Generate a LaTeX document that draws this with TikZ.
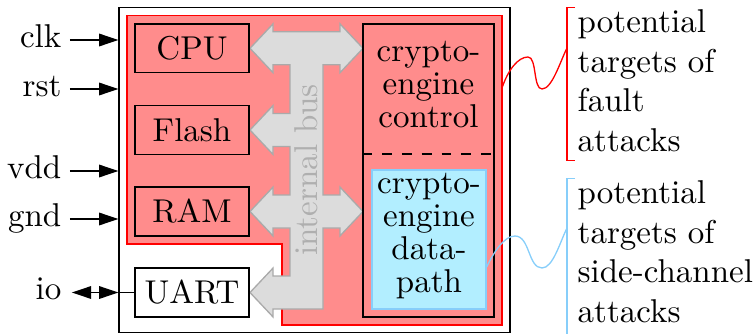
\documentclass[tikz,border=0pt]{standalone}
\usetikzlibrary{arrows.meta,calc}
\definecolor{faultfill}{RGB}{255,140,140}
\definecolor{scafill}{RGB}{178,238,255}
\definecolor{scaline}{RGB}{135,206,250}
\definecolor{busfill}{RGB}{220,220,220}
\definecolor{busline}{RGB}{170,170,170}
\definecolor{bustext}{RGB}{175,175,175}
\begin{document}
\begin{tikzpicture}[x=0.30303pt, y=-0.30303pt,
  unitbox/.style={draw, inner sep=0, minimum width=34.55pt, minimum height=14.76pt},
  modbox/.style={unitbox, fill=faultfill},
  pin/.style={inner sep=0, anchor=mid east},
  pinarrow/.style={-{Triangle[length=5.8pt,width=3.8pt]}, shorten <=2.4pt},
  stack/.style={align=center, font=\fontsize{10}{10}\selectfont, inner sep=0},
  note/.style={align=left, anchor=north west, inner sep=0},
]
\useasboundingbox (0,0) rectangle (756,333);

% chip outline
\node[draw, inner sep=0, minimum width=118.48pt, minimum height=98.55pt] (chip) at (314.5,169.9) {};

% region exposed to fault attacks
\draw[red, fill=faultfill] (127,15.7) -- (502,15.7) -- (502,325) -- (282,325)
  -- (282,244) -- (127,244) -- cycle;

% internal bus
\draw[busline, fill=busfill, line join=miter]
  (250,48.3) -- (273,23.9) -- (273,31.8) -- (340,31.8) -- (340,23.9) -- (363,48.3)
  -- (340,72.7) -- (340,64.8) -- (323,64.8) -- (323,195) -- (340,195) -- (340,187.1)
  -- (363,211.5) -- (340,235.9) -- (340,228) -- (323,228) -- (323,309) -- (273,309)
  -- (273,316.9) -- (250,292.5) -- (273,268.1) -- (273,276) -- (290,276) -- (290,228)
  -- (273,228) -- (273,235.9) -- (250,211.5) -- (273,187.1) -- (273,195) -- (290,195)
  -- (290,146.5) -- (273,146.5) -- (273,154.4) -- (250,130) -- (273,105.6)
  -- (273,113.5) -- (290,113.5) -- (290,64.8) -- (273,64.8) -- (273,72.7) -- cycle;
\node[rotate=90, text=bustext] (bus) at (306,170) {internal bus};

% modules
\node[modbox] (cpu) at (192,48.3) {CPU};
\node[modbox] (flash) at (192,130) {Flash};
\node[modbox] (ram) at (192,211.5) {RAM};
\node[unitbox, fill=white] (uart) at (192,292.5) {UART};

% crypto engine
\node[draw, inner sep=0, minimum width=39.7pt, minimum height=88.79pt] (ce) at (428.5,170.5) {};
\draw[dashed] (ce.west |- 0,154) -- (ce.east |- 0,154);
\node[stack] (ctl) at (428.5,85) {crypto-\\engine\\control};
\node[draw=scaline, fill=scafill, inner sep=0, minimum width=34.55pt, minimum height=42.12pt] (dp) at (429,239.5) {};
\node[stack] (dptext) at (429,236) {crypto-\\engine\\data-\\path};

% pins
\node[pin] (clk) at (62,40) {clk};
\node[pin] (rst) at (62,89) {rst};
\node[pin] (vdd) at (62,171) {vdd};
\node[pin] (gnd) at (62,219) {gnd};
\node[pin] (io) at (62,292.5) {io};
\draw[pinarrow] (clk.mid east) -- (clk.mid east -| chip.west);
\draw[pinarrow] (rst.mid east) -- (rst.mid east -| chip.west);
\draw[pinarrow] (vdd.mid east) -- (vdd.mid east -| chip.west);
\draw[pinarrow] (gnd.mid east) -- (gnd.mid east -| chip.west);
\draw[{Triangle[length=5.8pt,width=3.8pt]}-{Triangle[length=5.8pt,width=3.8pt]}, shorten <=3pt]
  (io.mid east) -- (io.mid east -| chip.west);
\draw (io.mid east -| chip.west) -- (uart.west);

% annotations
\node[note] (fault) at (577,9.1) {potential\\targets of\\fault\\attacks};
\node[note] (sca) at (577,180.1) {potential\\targets of\\side-channel\\attacks};
\draw[red] ($(fault.north west)+(-2,-1.8)$) -- ++(-8,0) |- ($(fault.south west)+(-2,8)$);
\draw[scaline] ($(sca.north west)+(-2,-1.8)$) -- ++(-8,0) |- ($(sca.south west)+(-2,15)$);

\coordinate (faultsrc) at (502,88);
\coordinate (faultdst) at (567,48);
\coordinate (scasrc) at (dp.east |- 0,267);
\coordinate (scadst) at (567,228);
\draw[red] (faultsrc) .. controls (508,70) and (518,57) .. (528,57)
  .. controls (537,57) and (533,89) .. (542,89)
  .. controls (552,89) and (560,62) .. (faultdst);
\draw[scaline] (scasrc) .. controls (494,252) and (504,236) .. (515,236)
  .. controls (530,236) and (528,268) .. (542,268)
  .. controls (553,268) and (560,242) .. (scadst);
\end{tikzpicture}
\end{document}
